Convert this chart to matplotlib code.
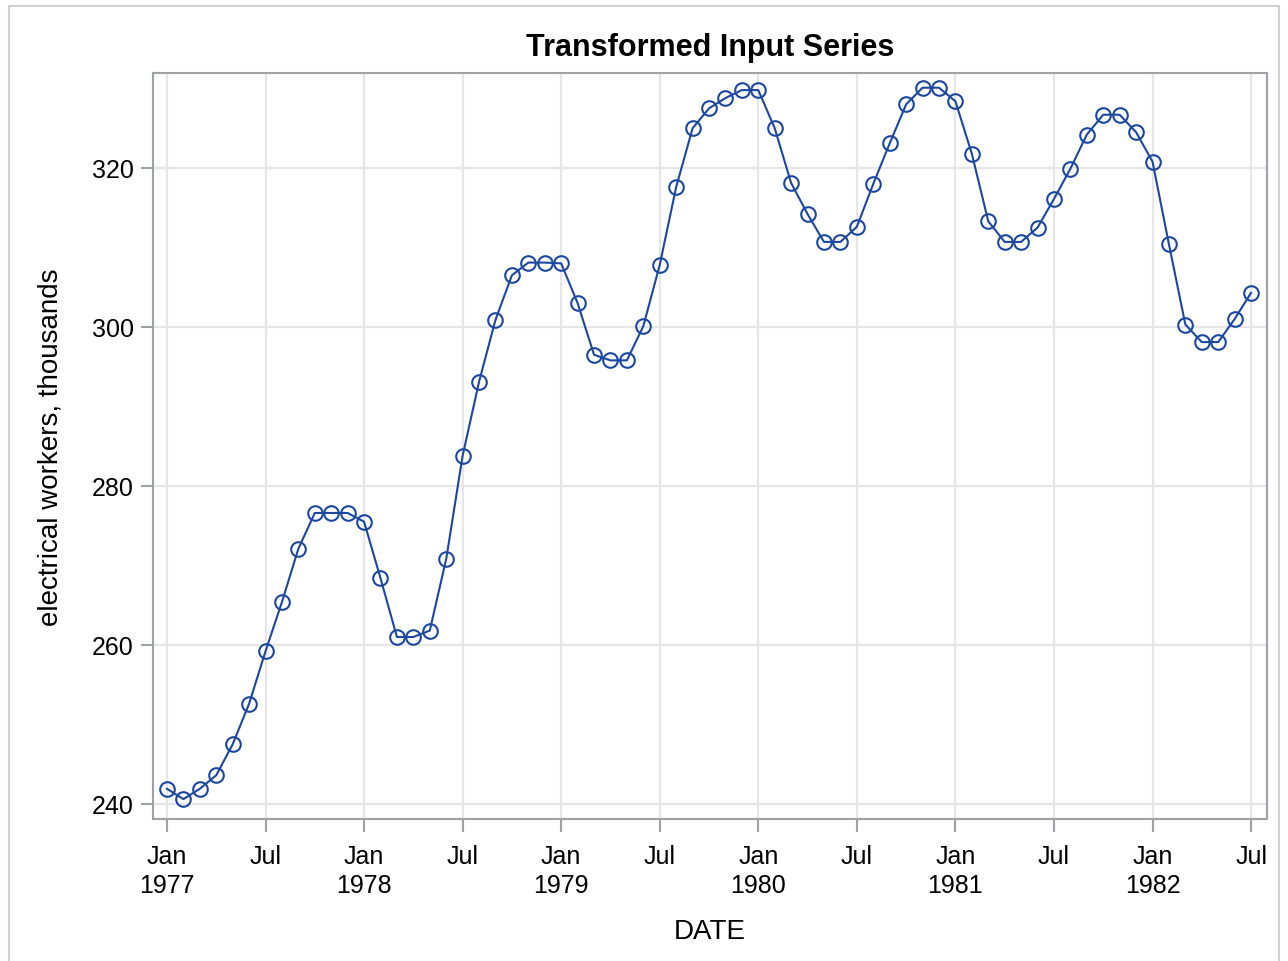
import matplotlib
matplotlib.use("Agg")
import matplotlib.pyplot as plt
from matplotlib.patches import Rectangle

plt.rcParams["font.family"] = ["Liberation Sans", "DejaVu Sans"]

# monthly values, Jan 1977 .. Jul 1982
months = list(range(67))
workers = [
    241.9, 240.6, 241.9, 243.6, 247.5, 252.6, 259.2, 265.4, 272.1, 276.6, 276.6, 276.6,
    275.5, 268.4, 261.0, 261.0, 261.8, 270.8, 283.8, 293.1, 300.9, 306.5, 308.1, 308.1,
    308.0, 303.0, 296.5, 295.8, 295.8, 300.1, 307.8, 317.6, 325.0, 327.5, 328.8, 329.8,
    329.8, 325.0, 318.1, 314.2, 310.7, 310.7, 312.6, 318.0, 323.1, 328.0, 330.1, 330.1,
    328.4, 321.8, 313.3, 310.7, 310.7, 312.5, 316.1, 319.9, 324.2, 326.7, 326.7, 324.5,
    320.8, 310.4, 300.3, 298.1, 298.1, 301.0, 304.3,
]

tick_pos = list(range(0, 67, 6))
tick_labels = ["Jan\n1977", "Jul", "Jan\n1978", "Jul", "Jan\n1979", "Jul",
               "Jan\n1980", "Jul", "Jan\n1981", "Jul", "Jan\n1982", "Jul"]
y_ticks = [240, 260, 280, 300, 320]

line_color = "#1c47a0"
axis_gray = "#9ea2a6"

fig = plt.figure(figsize=(12.88, 9.62), dpi=100)
fig.patches.append(Rectangle((9 / 1288, -0.01), 1270 / 1288, 1 - 7 / 962 + 0.01,
                             transform=fig.transFigure, fill=False,
                             edgecolor="#d0d0d0", linewidth=1.5))

ax = fig.add_axes([153 / 1288, 1 - 820 / 962, (1267 - 153) / 1288, (820 - 74) / 962])
ax.plot(months, workers, color=line_color, linewidth=1.5, marker="o",
        markersize=10.5, markerfacecolor="none", markeredgecolor=line_color,
        markeredgewidth=1.5, zorder=3)

ax.set_xlim(-0.85, 66.97)
ax.set_ylim(238.1, 331.95)
ax.set_xticks(tick_pos)
ax.set_xticklabels(tick_labels, fontsize=18, linespacing=1.25)
ax.set_yticks(y_ticks)
ax.set_yticklabels([str(v) for v in y_ticks], fontsize=18)

ax.grid(True, color="#e6e6e6", linewidth=1.6, zorder=0)
ax.set_axisbelow(True)
for s in ax.spines.values():
    s.set_color(axis_gray)
    s.set_linewidth(1.5)
ax.tick_params(axis="both", length=9, width=1.5, color=axis_gray, pad=5)
ax.tick_params(axis="x", pad=9)

ax.set_title("Transformed Input Series", fontsize=22, fontweight="bold", pad=13)
ax.set_xlabel("DATE", fontsize=20, labelpad=15)
ax.set_ylabel("electrical workers, thousands", fontsize=20, labelpad=20)

fig.savefig("out.png", dpi=100)
